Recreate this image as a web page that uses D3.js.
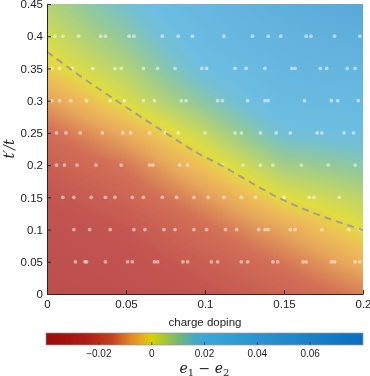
<!DOCTYPE html>
<html>
<head>
<meta charset="utf-8">
<script src="https://cdn.jsdelivr.net/npm/d3@7/dist/d3.min.js"></script>
<style>
    body { margin: 0; background: #fff; }
    #chart { position: relative; width: 370px; height: 376px; }
    #chart canvas, #chart svg { position: absolute; left: 0; top: 0; }
    text { font-family: "Liberation Sans", Arial, sans-serif; fill: #222; }
</style>
</head>
<body>
<div id="chart"></div>
<script>
// grid of e1 - e2: rows = t'/t, cols = charge doping
var dopingGrid = [0, 0.05, 0.1, 0.15, 0.2];
var tpGrid = [0, 0.05, 0.1, 0.15, 0.2, 0.25, 0.3, 0.35, 0.4, 0.45];
var energyDiff = [
    [-0.032, -0.029, -0.025, -0.019, -0.013],
    [-0.030, -0.027, -0.021, -0.014, -0.006],
    [-0.028, -0.024, -0.016, -0.008, 0.000],
    [-0.025, -0.019, -0.010, 0.000, 0.005],
    [-0.021, -0.014, -0.003, 0.008, 0.012],
    [-0.016, -0.007, 0.004, 0.017, 0.020],
    [-0.009, 0.001, 0.012, 0.024, 0.026],
    [-0.002, 0.006, 0.019, 0.029, 0.032],
    [0.002, 0.011, 0.024, 0.034, 0.040],
    [0.006, 0.016, 0.028, 0.040, 0.050]
];

// sample points (white dots), one list of doping values per t'/t row
var sampleRows = [0.05, 0.1, 0.15, 0.2, 0.25, 0.3, 0.35, 0.4];
var sampleDoping = [
    [0.018, 0.024, 0.025, 0.037, 0.051, 0.054, 0.068, 0.070, 0.086, 0.089, 0.104, 0.108, 0.123, 0.127, 0.143, 0.146, 0.162, 0.164, 0.180, 0.182, 0.195, 0.198],
    [0.017, 0.027, 0.040, 0.055, 0.062, 0.074, 0.081, 0.093, 0.101, 0.113, 0.120, 0.134, 0.138, 0.140, 0.154, 0.157, 0.174, 0.191, 0.198],
    [0.010, 0.017, 0.028, 0.037, 0.043, 0.054, 0.061, 0.073, 0.082, 0.093, 0.102, 0.112, 0.123, 0.132, 0.150, 0.166, 0.169, 0.185],
    [0.006, 0.011, 0.019, 0.031, 0.047, 0.065, 0.067, 0.084, 0.089, 0.111, 0.124, 0.135, 0.143, 0.161, 0.178, 0.195],
    [0.006, 0.012, 0.021, 0.035, 0.048, 0.053, 0.065, 0.075, 0.083, 0.100, 0.119, 0.123, 0.135, 0.145, 0.154, 0.171, 0.174, 0.188, 0.194],
    [0.003, 0.008, 0.015, 0.025, 0.040, 0.049, 0.061, 0.068, 0.085, 0.088, 0.108, 0.111, 0.127, 0.138, 0.140, 0.163, 0.180, 0.184, 0.197],
    [0.003, 0.008, 0.016, 0.029, 0.043, 0.047, 0.061, 0.070, 0.081, 0.098, 0.101, 0.119, 0.126, 0.138, 0.155, 0.157, 0.173, 0.177, 0.190, 0.195],
    [0.005, 0.010, 0.020, 0.034, 0.037, 0.052, 0.055, 0.073, 0.083, 0.092, 0.112, 0.130, 0.140, 0.148, 0.164, 0.167, 0.182, 0.198]
];

// dashed boundary line
var boundaryDoping = [0, 0.02, 0.044, 0.075, 0.095, 0.11, 0.146, 0.2];
var boundaryTp = [0.376, 0.34, 0.3, 0.25, 0.219, 0.2, 0.15, 0.099];

var xTicks = [0, 0.05, 0.1, 0.15, 0.2];
var yTicks = [0, 0.05, 0.1, 0.15, 0.2, 0.25, 0.3, 0.35, 0.4, 0.45];
var cbTicks = [-0.02, 0, 0.02, 0.04, 0.06];

// colormap stops
var cmapValues = [-0.04, -0.025, -0.015, -0.008, -0.004, 0, 0.005, 0.01, 0.016, 0.02, 0.08];
var cmapColors = ["#9c0a0a", "#ae1c16", "#c4401e", "#e08a24", "#e8a820", "#d6d200", "#a6c63a", "#72b872", "#46abc0", "#3aa7d8", "#0a6ec0"];

(function () {
    var W = 370, H = 376;
    var x0 = 47, x1 = 363, y0 = 4, y1 = 294;

    var x = d3.scaleLinear().domain([0, 0.2]).range([x0, x1]);
    var y = d3.scaleLinear().domain([0, 0.45]).range([y1, y0]);
    var color = d3.scaleLinear().domain(cmapValues).range(cmapColors).clamp(true);

    function field(d, t) {
        var i = d3.bisectRight(dopingGrid, d) - 1,
            j = d3.bisectRight(tpGrid, t) - 1;
        i = Math.max(0, Math.min(dopingGrid.length - 2, i));
        j = Math.max(0, Math.min(tpGrid.length - 2, j));
        var fx = (d - dopingGrid[i]) / (dopingGrid[i + 1] - dopingGrid[i]),
            fy = (t - tpGrid[j]) / (tpGrid[j + 1] - tpGrid[j]);
        fx = Math.max(0, Math.min(1, fx));
        fy = Math.max(0, Math.min(1, fy));
        var a = energyDiff[j][i], b = energyDiff[j][i + 1],
            c = energyDiff[j + 1][i], e = energyDiff[j + 1][i + 1];
        return (a * (1 - fx) + b * fx) * (1 - fy) + (c * (1 - fx) + e * fx) * fy;
    }

    var chart = d3.select("#chart");

    // heat map, drawn semi transparent over white
    var canvas = chart.append("canvas").attr("width", W).attr("height", H);
    var ctx = canvas.node().getContext("2d");
    var img = ctx.createImageData(x1 - x0, y1 - y0);
    var alpha = 0.75;
    for (var py = 0; py < y1 - y0; py++) {
        for (var px = 0; px < x1 - x0; px++) {
            var v = field(x.invert(x0 + px + 0.5), y.invert(y0 + py + 0.5));
            var c = d3.rgb(color(v));
            var k = (py * (x1 - x0) + px) * 4;
            img.data[k] = c.r * alpha + 255 * (1 - alpha);
            img.data[k + 1] = c.g * alpha + 255 * (1 - alpha);
            img.data[k + 2] = c.b * alpha + 255 * (1 - alpha);
            img.data[k + 3] = 255;
        }
    }
    ctx.putImageData(img, x0, y0);

    var svg = chart.append("svg").attr("width", W).attr("height", H);

    // sample points
    var dots = [];
    sampleRows.forEach(function (t, r) {
        sampleDoping[r].forEach(function (d) {
            dots.push({d: d, t: t});
        });
    });
    svg.append("g")
        .selectAll("circle")
        .data(dots)
        .enter().append("circle")
        .attr("cx", function (p) { return x(p.d); })
        .attr("cy", function (p) { return y(p.t); })
        .attr("r", 1.9)
        .attr("fill", "#fff")
        .attr("fill-opacity", 0.5);

    // dashed boundary
    var line = d3.line()
        .x(function (d, i) { return x(boundaryDoping[i]); })
        .y(function (d, i) { return y(boundaryTp[i]); })
        .curve(d3.curveMonotoneX);
    svg.append("path")
        .attr("d", line(boundaryDoping))
        .attr("fill", "none")
        .attr("stroke", "#999")
        .attr("stroke-opacity", 0.85)
        .attr("stroke-width", 2)
        .attr("stroke-dasharray", "7,5");

    // axes, ticks pointing inward
    var xAxis = svg.append("g")
        .attr("transform", "translate(0," + y1 + ")")
        .call(d3.axisBottom(x).tickValues(xTicks).tickSizeInner(-4).tickSizeOuter(0).tickPadding(6)
            .tickFormat(function (d) { return d3.format("~g")(d); }));
    var yAxis = svg.append("g")
        .attr("transform", "translate(" + x0 + ",0)")
        .call(d3.axisLeft(y).tickValues(yTicks).tickSizeInner(-4).tickSizeOuter(0).tickPadding(4)
            .tickFormat(function (d) { return d3.format("~g")(d); }));
    [xAxis, yAxis].forEach(function (a) {
        a.select(".domain").attr("stroke", "#262626");
        a.selectAll(".tick line").attr("stroke", "#262626");
        a.selectAll(".tick text").style("font-size", "11.5px").attr("fill", "#222")
            .style("font-family", "'Liberation Sans', Arial, sans-serif");
    });

    svg.append("text")
        .attr("x", (x0 + x1) / 2)
        .attr("y", 326)
        .attr("text-anchor", "middle")
        .style("font-size", "11.5px")
        .text("charge doping");

    var yl = svg.append("text")
        .attr("transform", "translate(14," + ((y0 + y1) / 2) + ") rotate(-90)")
        .attr("text-anchor", "middle")
        .style("font-family", "'DejaVu Serif', 'Liberation Serif', serif")
        .style("font-style", "italic")
        .style("font-size", "14px");
    yl.append("tspan").text("t′/t");

    // colorbar
    var cb = d3.scaleLinear().domain([-0.04, 0.08]).range([46, 363]);
    var grad = svg.append("defs").append("linearGradient")
        .attr("id", "cbgrad").attr("x1", "0%").attr("x2", "100%");
    cmapValues.forEach(function (v, i) {
        grad.append("stop")
            .attr("offset", ((cb(v) - 46) / (363 - 46) * 100) + "%")
            .attr("stop-color", cmapColors[i]);
    });
    svg.append("rect")
        .attr("x", 46).attr("y", 333)
        .attr("width", 363 - 46).attr("height", 12)
        .attr("fill", "url(#cbgrad)")
        .attr("stroke", "#999").attr("stroke-width", 0.7);
    var cbg = svg.append("g").selectAll("g")
        .data(cbTicks).enter().append("g")
        .attr("transform", function (d) { return "translate(" + cb(d) + ",0)"; });
    cbg.append("line")
        .attr("y1", 345).attr("y2", 342)
        .attr("stroke", "#333").attr("stroke-width", 0.7);
    cbg.append("text")
        .attr("y", 357)
        .attr("text-anchor", "middle")
        .style("font-size", "10px")
        .text(function (d) { return d3.format("~g")(d); });

    var cl = svg.append("text")
        .attr("x", (46 + 363) / 2)
        .attr("y", 373)
        .attr("text-anchor", "middle")
        .style("font-family", "'DejaVu Serif', 'Liberation Serif', serif")
        .style("font-size", "14px");
    cl.append("tspan").style("font-style", "italic").text("e");
    cl.append("tspan").attr("dy", 3).style("font-size", "10px").text("1");
    cl.append("tspan").attr("dy", -3).text(" − ");
    cl.append("tspan").style("font-style", "italic").text("e");
    cl.append("tspan").attr("dy", 3).style("font-size", "10px").text("2");
}());
</script>
</body>
</html>
